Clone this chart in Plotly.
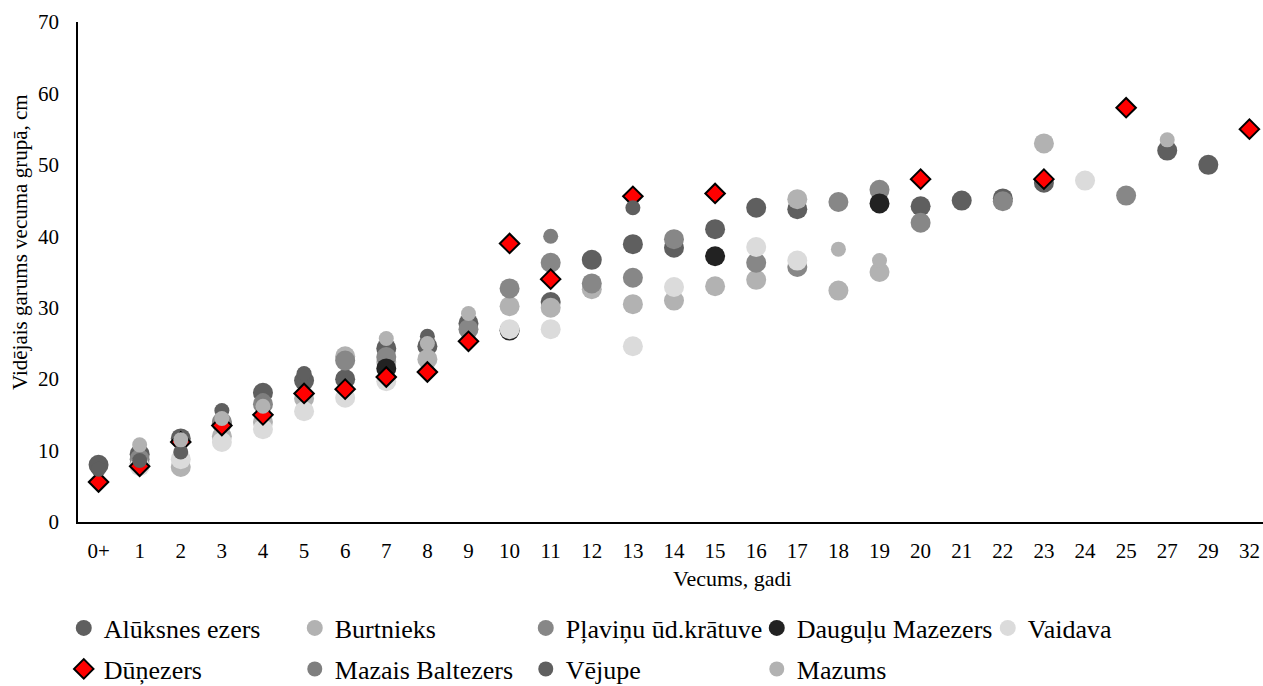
import plotly.graph_objects as go

# Age groups (categorical x axis)
ages = ["0+", "1", "2", "3", "4", "5", "6", "7", "8", "9", "10", "11", "12", "13",
        "14", "15", "16", "17", "18", "19", "20", "21", "22", "23", "24", "25",
        "27", "29", "32"]

N = None
# Mean length per age group, cm
aluksnes = [8.0, 9.5, 11.7, 13.8, 18.1, 19.8, 20.0, 24.3, 24.6, 27.8, N, 30.8, 36.7, 38.9,
            38.4, 41.0, 44.0, 43.8, N, N, 44.2, 45.0, 45.3, 47.5, N, N, 52.0, 50.0, N]
burtnieks = [N, 8.2, 7.7, 12.0, 14.0, 17.3, 23.2, 22.4, 22.8, N, 30.2, 30.0, 32.6, 30.5,
             31.0, 33.0, 33.9, 45.2, 32.4, 35.0, N, N, N, 53.0, N, N, N, N, N]
plavinu = [N, 8.8, N, 14.0, 16.5, N, 22.6, 23.1, N, 27.0, 32.7, 36.3, 33.4, 34.2,
           39.6, N, 36.3, 35.7, 44.8, 46.5, 41.9, N, 44.9, N, N, 45.7, N, N, N]
dauguli = [N, N, N, N, N, N, N, 21.5, N, N, 26.8, N, N, N,
           N, 37.2, N, N, N, 44.6, N, N, N, N, N, N, N, N, N]
vaidava = [N, 7.8, 8.8, 11.2, 13.0, 15.5, 17.4, 19.7, N, N, 27.0, 27.0, N, 24.6,
           32.9, N, 38.5, 36.6, N, N, N, N, N, N, 47.8, N, N, N, N]
dunezers = [5.6, 7.8, 11.2, 13.5, 15.0, 18.0, 18.6, 20.3, 21.0, 25.3, 39.0, 34.0, N, 45.6,
            N, 46.0, N, N, N, N, 48.0, N, N, 48.0, N, 58.0, N, N, 55.0]
mazais_baltezers = [N, N, N, N, 17.0, N, N, N, N, N, N, 40.0, N, N,
                    N, N, N, N, N, N, N, N, N, N, N, N, N, N, N]
vejupe = [7.4, 8.6, 9.8, 15.6, N, 20.8, N, N, 26.0, N, N, N, N, 44.0,
          N, N, N, N, N, N, N, N, N, N, N, N, N, N, N]
mazums = [N, 10.8, 11.5, 14.5, 16.2, N, N, 25.7, 25.0, 29.2, N, N, N, N,
          N, N, N, N, 38.2, 36.6, N, N, N, N, N, N, 53.5, N, N]

# name, values, colour, marker size, symbol, legend row
series = [
    ("Alūksnes ezers", aluksnes, "#5f5f5f", 20, "circle", "legend"),
    ("Burtnieks", burtnieks, "#b2b2b2", 20, "circle", "legend"),
    ("Pļaviņu ūd.krātuve", plavinu, "#878787", 20, "circle", "legend"),
    ("Dauguļu Mazezers", dauguli, "#222222", 20, "circle", "legend"),
    ("Vaidava", vaidava, "#dbdbdb", 20, "circle", "legend"),
    ("Dūņezers", dunezers, "#ff0000", 15, "diamond", "legend2"),
    ("Mazais Baltezers", mazais_baltezers, "#7f7f7f", 15, "circle", "legend2"),
    ("Vējupe", vejupe, "#5f5f5f", 15, "circle", "legend2"),
    ("Mazums", mazums, "#b2b2b2", 15, "circle", "legend2"),
]

FONT = "Times New Roman, Liberation Serif, serif"

fig = go.Figure()
for name, vals, color, size, symbol, leg in series:
    line = dict(color="black", width=2) if symbol == "diamond" else dict(width=0)
    fig.add_trace(go.Scatter(
        x=ages, y=vals, name=name, mode="markers", legend=leg,
        marker=dict(color=color, size=size, symbol=symbol, line=line, opacity=1),
        cliponaxis=False,
    ))

legend_style = dict(
    orientation="h", xanchor="left", yanchor="middle", x=-0.012,
    font=dict(family=FONT, size=26, color="black"),
    entrywidth=186, entrywidthmode="pixels", itemsizing="trace",
    bgcolor="rgba(0,0,0,0)", traceorder="normal",
)

fig.update_layout(
    width=1263, height=686, autosize=False,
    margin=dict(l=78, r=0, t=22, b=164, autoexpand=False),
    paper_bgcolor="white", plot_bgcolor="white",
    font=dict(family=FONT, size=21, color="black"),
    showlegend=True,
    legend=dict(legend_style, y=-0.212),
    legend2=dict(legend_style, y=-0.294),
    xaxis=dict(
        type="category", categoryorder="array", categoryarray=ages,
        range=[-0.5, 28.33], showline=True, linecolor="black", linewidth=1.5,
        showgrid=False, zeroline=False, ticks="", ticklabelstandoff=9,
        tickfont=dict(family=FONT, size=21),
    ),
    yaxis=dict(
        range=[0, 70], dtick=10, showline=True, linecolor="black", linewidth=1.5,
        showgrid=False, zeroline=False, ticks="", ticklabelstandoff=13,
        tickfont=dict(family=FONT, size=21),
    ),
    annotations=[
        dict(text="Vecums, gadi", xref="paper", yref="paper", x=0.5527, y=-0.112,
             xanchor="center", yanchor="middle", showarrow=False,
             font=dict(family=FONT, size=22)),
        dict(text="Vidējais garums vecuma grupā, cm", xref="paper", yref="paper",
             x=-0.049, y=0.56, textangle=-90, xanchor="center", yanchor="middle",
             showarrow=False, font=dict(family=FONT, size=21)),
    ],
)

fig.write_html("out.html")
